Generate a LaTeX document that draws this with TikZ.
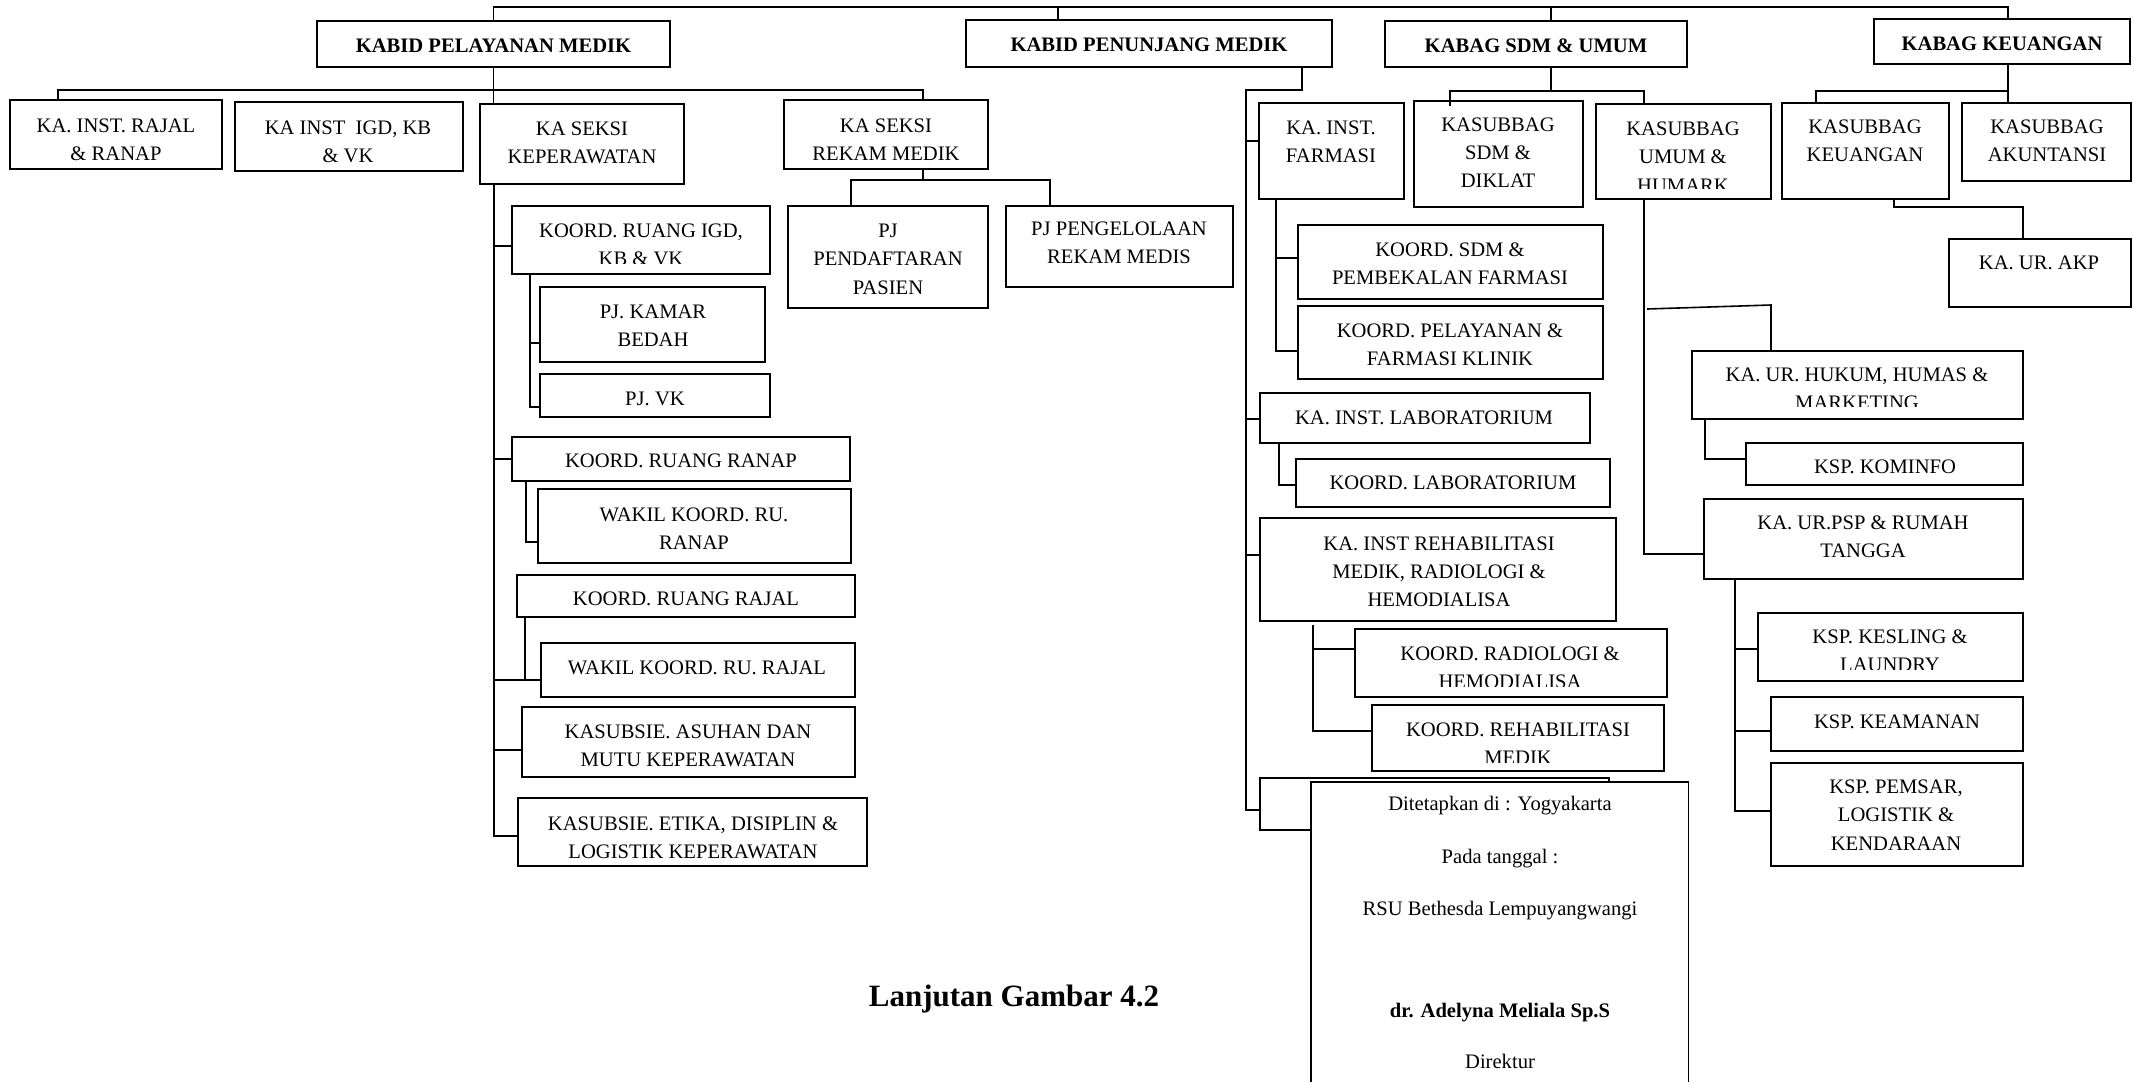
\documentclass[tikz,border=0pt]{standalone}
\usepackage{fontspec}
\setmainfont{Liberation Serif}
\usetikzlibrary{fit}
\newcommand\cstrut{\rule[-0.3em]{0pt}{1.262em}}
\tikzset{
  bx/.style={draw, line width=0.9pt, inner sep=0pt},
  tx/.style={align=center, inner sep=0pt, font=\fontsize{10.3}{14.1}\selectfont},
  btx/.style={tx, yshift=-0.5pt},
  ln/.style={line width=0.8pt}
}
\newcommand\obox[8]{\node[bx, fit={(#2,#3) (#4,#5)}] (#1) {};
  \node[btx] (#1t) at (#6,#7) {\cstrut #8\cstrut};}
\newcommand\oboxc[9]{\node[bx, fit={(#2,#3) (#4,#5)}] (#1) {};
  \begin{scope}\clip (#2,#3) rectangle (#4,#9);
  \node[btx] (#1t) at (#6,#7) {\cstrut #8\cstrut};\end{scope}}
\begin{document}
\begin{tikzpicture}[x=0.5pt,y=-0.5pt]
\fill[white] (0,0) rectangle (2134,1082);
\useasboundingbox (0,0) rectangle (2134,1082);

% top level
\obox{kpm}{317}{21}{670}{67}{493.5}{45}{\bfseries KABID PELAYANAN MEDIK}
\obox{kpn}{966}{20}{1332}{67}{1149}{44}{\bfseries KABID PENUNJANG MEDIK}
\obox{ksdm}{1385}{21}{1687}{67}{1536}{45}{\bfseries KABAG SDM \& UMUM}
\obox{kku}{1874}{19}{2130}{64}{2002}{43}{\bfseries KABAG KEUANGAN}

% pelayanan medik
\obox{rajal}{10}{100}{222}{169}{116}{138.5}{KA. INST. RAJAL\\\& RANAP}
\obox{igd}{235}{102}{463}{171}{348}{140.5}{KA INST\ \ IGD, KB\\\& VK}
\obox{kep}{480}{104}{684}{184}{582}{141.5}{KA SEKSI\\KEPERAWATAN}
\obox{rek}{784}{100}{988}{169}{886}{138.5}{KA SEKSI\\REKAM MEDIK}
\obox{pjp}{788}{206}{988}{308}{888}{258}{PJ\\PENDAFTARAN\\PASIEN}
\obox{pjr}{1006}{206}{1233}{287}{1119}{242}{PJ PENGELOLAAN\\REKAM MEDIS}
\oboxc{igdk}{512}{206}{770}{274}{641}{243.5}{KOORD. RUANG IGD,\\KB \& VK}{263}
\obox{kamar}{540}{287}{765}{362}{653}{324.5}{PJ. KAMAR\\BEDAH}
\obox{vk}{540}{374}{770}{417}{655}{398}{PJ. VK}
\obox{ranap}{512}{437}{850}{481}{681}{460}{KOORD. RUANG RANAP}
\obox{wranap}{538}{489}{851}{563}{694}{527.5}{WAKIL KOORD. RU.\\RANAP}
\obox{rajalk}{517}{575}{855}{617}{686}{598}{KOORD. RUANG RAJAL}
\obox{wrajal}{541}{643}{855}{697}{697}{667}{WAKIL KOORD. RU. RAJAL}
\obox{asuhan}{522}{707}{855}{777}{688}{745}{KASUBSIE. ASUHAN DAN\\MUTU KEPERAWATAN}
\obox{etika}{518}{798}{867}{866}{693}{836.5}{KASUBSIE. ETIKA, DISIPLIN \&\\LOGISTIK KEPERAWATAN}

% penunjang medik
\obox{farm}{1259}{103}{1404}{199}{1331}{140.5}{KA. INST.\\FARMASI}
\obox{kfar}{1298}{225}{1603}{299}{1450}{262.5}{KOORD. SDM \&\\PEMBEKALAN FARMASI}
\obox{pel}{1298}{306}{1603}{379}{1450}{343.5}{KOORD. PELAYANAN \&\\FARMASI KLINIK}
\obox{lab}{1260}{393}{1590}{443}{1424}{417}{KA. INST. LABORATORIUM}
\obox{klab}{1296}{459}{1610}{507}{1453}{482}{KOORD. LABORATORIUM}
\obox{rehab}{1260}{518}{1616}{621}{1439}{570.5}{KA. INST REHABILITASI\\MEDIK, RADIOLOGI \&\\HEMODIALISA}
\oboxc{krad}{1355}{629}{1667}{697}{1510}{667}{KOORD. RADIOLOGI \&\\HEMODIALISA}{686}
\oboxc{kreh}{1372}{705}{1664}{771}{1518}{743}{KOORD. REHABILITASI\\MEDIK}{762}
\node[bx, fit={(1260,778) (1609,830)}] (hid) {};

% sdm & umum
\obox{sdmk}{1414}{101}{1583}{207}{1498}{151.5}{KASUBBAG\\SDM \&\\DIKLAT}
\oboxc{umum}{1596}{104}{1771}{199}{1683}{156}{KASUBBAG\\UMUM \&\\HUMARK}{188}
\oboxc{hukum}{1692}{351}{2023}{419}{1857}{388}{KA. UR. HUKUM, HUMAS \&\\MARKETING}{406}
\obox{kominfo}{1746}{443}{2023}{485}{1885}{466}{KSP. KOMINFO}
\obox{psp}{1704}{499}{2023}{579}{1863}{536}{KA. UR.PSP \& RUMAH\\TANGGA}
\oboxc{kesling}{1758}{613}{2023}{681}{1890}{649.5}{KSP. KESLING \&\\LAUNDRY}{669}
\obox{keam}{1771}{697}{2023}{751}{1897}{721}{KSP. KEAMANAN}
\obox{pemsar}{1771}{763}{2023}{866}{1896}{814}{KSP. PEMSAR,\\LOGISTIK \&\\KENDARAAN}

% keuangan
\obox{keu}{1782}{103}{1949}{199}{1865}{140}{KASUBBAG\\KEUANGAN}
\obox{akun}{1962}{103}{2131}{181}{2047}{140}{KASUBBAG\\AKUNTANSI}
\obox{akp}{1949}{239}{2131}{307}{2039}{262}{KA. UR. AKP}

% signature box
\node[fill=white, inner sep=0pt, fit={(1311,782) (1688,1082)}] (sig) {};
\draw[line width=0.9pt] (sig.south west) -- (sig.north west) -- (sig.north east) -- (sig.south east);
\node[tx] (s1) at (1500,804) {\cstrut Ditetapkan di : Yogyakarta\cstrut};
\node[tx] (s2) at (1500,857) {\cstrut Pada tanggal :\cstrut};
\node[tx] (s3) at (1500,909) {\cstrut RSU Bethesda Lempuyangwangi\cstrut};
\node[tx] (s4) at (1500,1011) {\cstrut\bfseries dr. Adelyna Meliala Sp.S\cstrut};
\node[tx] (s5) at (1500,1062) {\cstrut Direktur\cstrut};

\node[tx, font=\fontsize{15.5}{18}\selectfont\bfseries] (cap) at (1014,996) {\cstrut Lanjutan Gambar 4.2\cstrut};

% ---------- connectors ----------
\coordinate (tr) at (2008,7);
\coordinate (t1) at (1058,7);
\coordinate (t2) at (1551,7);
\draw[ln] (kpm.north) |- (tr) -- (tr |- kku.north);
\draw[ln] (t1) -- (t1 |- kpn.north);
\draw[ln] (t2) -- (t2 |- ksdm.north);

% pelayanan
\coordinate (b1) at (58,90);
\coordinate (b2) at (923,90);
\draw[ln] (kpm.south) -- (kpm.south |- kep.north);
\draw[ln] (b1 |- rajal.north) -- (b1) -- (b2) -- (b2 |- rek.north);
\coordinate (r1) at (923,180);
\coordinate (r2) at (851,180);
\coordinate (r3) at (1050,180);
\draw[ln] (r1 |- rek.south) -- (r1);
\draw[ln] (r2 |- pjp.north) -- (r2) -- (r3) -- (r3 |- pjr.north);

\coordinate (k1) at (494,246);
\coordinate (k2) at (494,459);
\coordinate (k3) at (494,680);
\coordinate (k4) at (494,750);
\coordinate (k5) at (494,836);
\draw[ln] (k1 |- kep.south) -- (k5) -- (k5 -| etika.west);
\draw[ln] (k1) -- (k1 -| igdk.west);
\draw[ln] (k2) -- (k2 -| ranap.west);
\draw[ln] (k3) -- (k3 -| wrajal.west);
\draw[ln] (k4) -- (k4 -| asuhan.west);

\coordinate (g1) at (530,343);
\coordinate (g2) at (530,407);
\draw[ln] (g2 |- igdk.south) -- (g2) -- (g2 -| vk.west);
\draw[ln] (g1) -- (g1 -| kamar.west);
\coordinate (n1) at (526,542);
\draw[ln] (n1 |- ranap.south) -- (n1) -- (n1 -| wranap.west);
\coordinate (q1) at (525,680);
\draw[ln] (q1 |- rajalk.south) -- (q1);

% penunjang
\coordinate (pn1) at (1302,90);
\coordinate (pn2) at (1246,90);
\coordinate (f0) at (1246,141);
\coordinate (f1) at (1246,419);
\coordinate (f2) at (1246,555);
\coordinate (f3) at (1246,810);
\draw[ln] (pn1 |- kpn.south) -- (pn1) -- (pn2) -- (f3) -- (f3 -| hid.west);
\draw[ln] (f0) -- (f0 -| farm.west);
\draw[ln] (f1) -- (f1 -| lab.west);
\draw[ln] (f2) -- (f2 -| rehab.west);
\coordinate (fa1) at (1276,258);
\coordinate (fa2) at (1276,351);
\draw[ln] (fa2 |- farm.south) -- (fa2) -- (fa2 -| pel.west);
\draw[ln] (fa1) -- (fa1 -| kfar.west);
\coordinate (la1) at (1279,485);
\draw[ln] (la1 |- lab.south) -- (la1) -- (la1 -| klab.west);
\coordinate (re0) at (1313,625);
\coordinate (re1) at (1313,649);
\coordinate (re2) at (1313,731);
\draw[ln] (re0) -- (re2) -- (re2 -| kreh.west);
\draw[ln] (re1) -- (re1 -| krad.west);

% sdm & umum
\coordinate (sd0) at (1450,91);
\coordinate (sd1) at (1551,91);
\coordinate (sd2) at (1644,91);
\draw[ln] (sd1 |- ksdm.south) -- (sd1);
\draw[ln] ([yshift=-3pt]sd0 |- sdmk.north) -- (sd0) -- (sd2) -- (sd2 |- umum.north);
\coordinate (u1) at (1644,554);
\draw[ln] (u1 |- umum.south) -- (u1) -- (u1 -| psp.west);
\coordinate (u2) at (1647,309);
\coordinate (u3) at (1771,305);
\draw[ln] (u2) -- (u3) -- (u3 |- hukum.north);
\coordinate (h1) at (1705,459);
\draw[ln] (h1 |- hukum.south) -- (h1) -- (h1 -| kominfo.west);
\coordinate (p1) at (1735,649);
\coordinate (p2) at (1735,731);
\coordinate (p3) at (1735,811);
\draw[ln] (p3 |- psp.south) -- (p3) -- (p3 -| pemsar.west);
\draw[ln] (p1) -- (p1 -| kesling.west);
\draw[ln] (p2) -- (p2 -| keam.west);

% keuangan
\coordinate (ku0) at (2008,91);
\coordinate (ku1) at (1816,91);
\draw[ln] (ku0 |- kku.south) -- (ku0 |- akun.north);
\draw[ln] (ku0) -- (ku1) -- (ku1 |- keu.north);
\coordinate (a1) at (1894,207);
\coordinate (a2) at (2023,207);
\draw[ln] (a1 |- keu.south) -- (a1) -- (a2) -- (a2 |- akp.north);
\end{tikzpicture}
\end{document}
